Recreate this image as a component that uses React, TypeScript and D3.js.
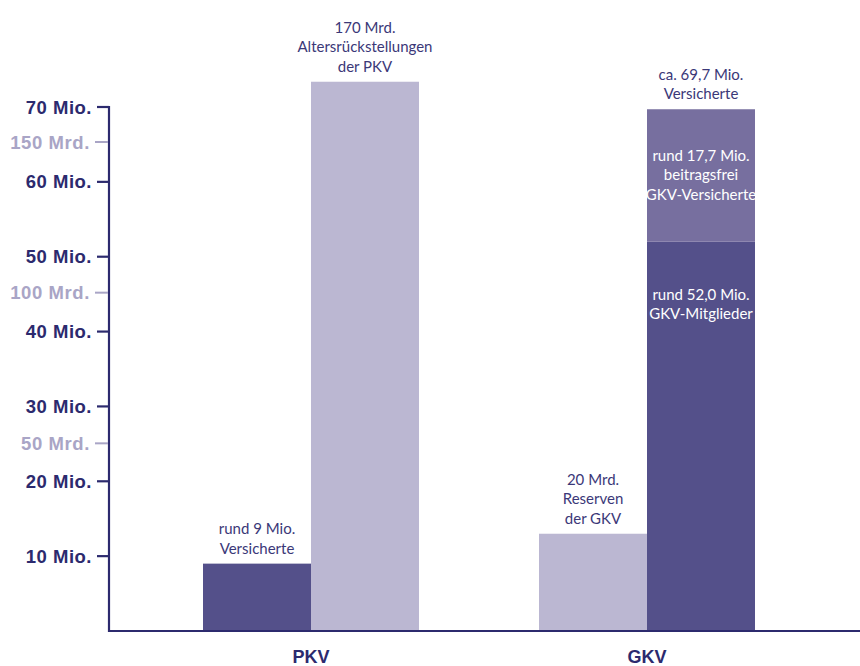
import React from 'react';
import * as d3 from 'd3';

// Data
const groups = ['PKV', 'GKV'];
const mioTicks = [10, 20, 30, 40, 50, 60, 70];
const mrdTicks = [50, 100, 150];

// Mio. bars (persons insured)
const mioGroup = ['PKV', 'GKV', 'GKV'];
const mioStart = [0, 0, 52.0];
const mioEnd = [9, 52.0, 69.7];
const mioSide = ['left', 'right', 'right'];
const mioFill = ['#54508a', '#54508a', '#776f9f'];

// Mrd. bars (reserves)
const mrdGroup = ['PKV', 'GKV'];
const mrdValues = [170, 20];
const mrdSide = ['right', 'left'];

// Annotation texts
const topLabels = [
  { group: 'PKV', side: 'left', unit: 'mio', value: 9, lines: ['rund 9 Mio.', 'Versicherte'] },
  { group: 'PKV', side: 'right', unit: 'mrd', value: 170, lines: ['170 Mrd.', 'Altersrückstellungen', 'der PKV'] },
  { group: 'GKV', side: 'left', unit: 'mrd', value: 20, lines: ['20 Mrd.', 'Reserven', 'der GKV'] },
  { group: 'GKV', side: 'right', unit: 'mio', value: 69.7, lines: ['ca. 69,7 Mio.', 'Versicherte'] },
];
const innerLabels = [
  { start: 52.0, end: 69.7, lines: ['rund 17,7 Mio.', 'beitragsfrei', 'GKV-Versicherte'], mode: 'center' },
  { start: 0, end: 52.0, lines: ['rund 52,0 Mio.', 'GKV-Mitglieder'], mode: 'top' },
];

const W = 860;
const H = 666;
const axisX = 109;
const baseY = 631;
const barW = 108;
const navy = '#2c2a6e';
const textColor = '#3b3878';
const lightText = '#a9a5c6';
const annFont = 'Lato, "Open Sans", sans-serif';
const axisFont = '"Liberation Sans", Arial, sans-serif';

export default function App() {
  const x = d3.scaleBand().domain(groups).range([143, 815]);
  const side = d3
    .scaleBand()
    .domain(['left', 'right'])
    .range([x.bandwidth() / 2 - barW, x.bandwidth() / 2 + barW]);
  const yMio = d3.scaleLinear().domain([0, 70]).range([baseY, 107]);
  const yMrd = d3.scaleLinear().domain([0, 150]).range([594, 142]);

  const barX = (g: string, s: string) => (x(g) || 0) + (side(s) || 0);
  const lh = 19.5;

  return (
    <svg
      width={W}
      height={H}
      style={{ position: 'absolute', left: 0, top: 0, background: '#fff' }}
    >
      {/* Mrd bars */}
      {mrdValues.map((v, i) => (
        <rect
          key={'mrd' + i}
          x={barX(mrdGroup[i], mrdSide[i])}
          y={yMrd(v)}
          width={side.bandwidth()}
          height={baseY - yMrd(v)}
          fill="#bbb7d2"
        />
      ))}
      {/* Mio bars */}
      {mioEnd.map((v, i) => (
        <rect
          key={'mio' + i}
          x={barX(mioGroup[i], mioSide[i])}
          y={yMio(v)}
          width={side.bandwidth()}
          height={yMio(mioStart[i]) - yMio(v)}
          fill={mioFill[i]}
        />
      ))}

      {/* Axes */}
      <line x1={axisX} x2={axisX} y1={yMio(70) - 1} y2={baseY + 1} stroke={navy} strokeWidth={2.2} />
      <line x1={axisX - 1} x2={W} y1={baseY} y2={baseY} stroke={navy} strokeWidth={2.2} />
      {mioTicks.map((t) => (
        <g key={'mt' + t}>
          <line x1={97} x2={axisX} y1={yMio(t)} y2={yMio(t)} stroke={navy} strokeWidth={2.2} />
          <text
            x={92}
            y={yMio(t) + 6.5}
            textAnchor="end"
            fontFamily={axisFont}
            fontWeight="bold"
            fontSize={18.5}
            letterSpacing={0.5}
            fill={navy}
          >
            {t} Mio.
          </text>
        </g>
      ))}
      {mrdTicks.map((t) => (
        <g key={'rt' + t}>
          <line x1={95} x2={axisX - 1} y1={yMrd(t)} y2={yMrd(t)} stroke={lightText} strokeWidth={2} />
          <text
            x={90}
            y={yMrd(t) + 6.5}
            textAnchor="end"
            fontFamily={axisFont}
            fontWeight="bold"
            fontSize={18.5}
            letterSpacing={0.6}
            fill={lightText}
          >
            {t} Mrd.
          </text>
        </g>
      ))}

      {/* Category labels */}
      {groups.map((g) => (
        <text
          key={g}
          x={(x(g) || 0) + x.bandwidth() / 2}
          y={663}
          textAnchor="middle"
          fontFamily={axisFont}
          fontWeight="bold"
          fontSize={18}
          fill={navy}
        >
          {g}
        </text>
      ))}

      {/* Labels above bars */}
      {topLabels.map((l, i) => {
        const top = l.unit === 'mio' ? yMio(l.value) : yMrd(l.value);
        const cx = barX(l.group, l.side) + side.bandwidth() / 2;
        const n = l.lines.length;
        return (
          <text
            key={'tl' + i}
            textAnchor="middle"
            fontFamily={annFont}
            fontSize={15}
            fill={textColor}
          >
            {l.lines.map((s, j) => (
              <tspan key={j} x={cx} y={top - 10 - (n - 1 - j) * lh}>
                {s}
              </tspan>
            ))}
          </text>
        );
      })}

      {/* Labels inside the GKV stack */}
      {innerLabels.map((l, i) => {
        const cx = barX('GKV', 'right') + side.bandwidth() / 2;
        const y0 = yMio(l.end);
        const y1 = yMio(l.start);
        const n = l.lines.length;
        const first = l.mode === 'center' ? (y0 + y1) / 2 - ((n - 1) * lh) / 2 + 5 : y0 + 58;
        return (
          <text
            key={'il' + i}
            textAnchor="middle"
            fontFamily={annFont}
            fontSize={15}
            fill="#ffffff"
          >
            {l.lines.map((s, j) => (
              <tspan key={j} x={cx} y={first + j * lh}>
                {s}
              </tspan>
            ))}
          </text>
        );
      })}
    </svg>
  );
}
